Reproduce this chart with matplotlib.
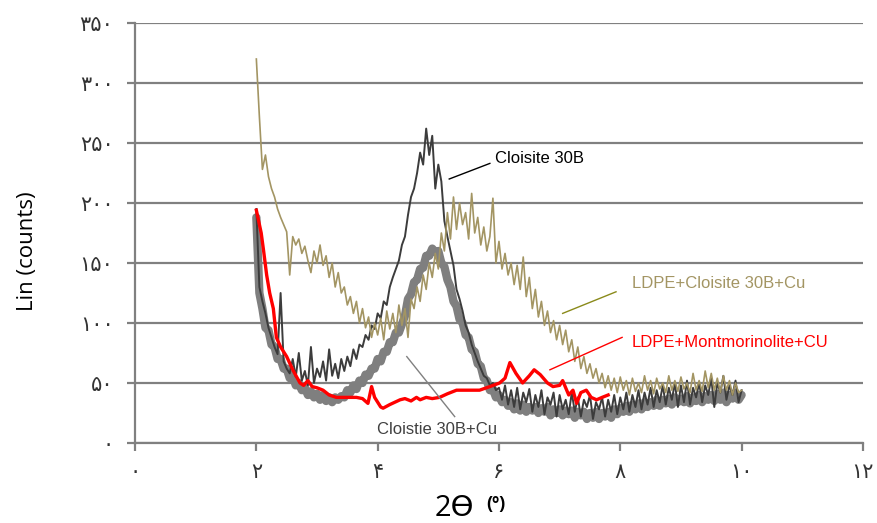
import numpy as np
import matplotlib
matplotlib.use("Agg")
import matplotlib.pyplot as plt

# 2theta scan step used for the noisy traces
scan_start = 2.0
scan_step = 0.05

cloisite_30b = [
    195, 130, 118, 108, 96, 88, 80, 74, 125, 68,
    62, 58, 70, 55, 75, 52, 60, 48, 80, 50,
    62, 55, 68, 52, 78, 56, 66, 54, 70, 60,
    72, 64, 78, 70, 82, 80, 90, 86, 98, 95,
    108, 104, 118, 115, 130, 138, 145, 152, 165, 172,
    190, 205, 212, 225, 242, 232, 262, 240, 256, 212,
    232, 218, 185, 172, 160, 148, 128, 120, 110, 98,
    92, 82, 75, 68, 62, 56, 54, 48, 50, 44,
    46, 36, 48, 32, 44, 30, 46, 28, 42, 34,
    45, 26, 40, 30, 44, 24, 38, 32, 42, 22,
    40, 28, 36, 24, 42, 26, 38, 22, 36, 30,
    40, 20, 34, 28, 38, 22, 36, 26, 40, 24,
    38, 28, 42, 26, 40, 30, 44, 28, 42, 32,
    46, 30, 44, 34, 48, 32, 46, 36, 50, 30,
    48, 34, 52, 32, 46, 38, 50, 34, 48, 40,
    54, 30, 50, 42, 56, 36, 48, 40, 52, 34,
    44,
]

cloistie_30b_cu = [
    188, 125, 112, 96, 94, 82, 80, 70, 70, 62,
    62, 54, 56, 48, 50, 44, 46, 40, 43, 38,
    41, 36, 40, 35, 38, 34, 38, 36, 39, 38,
    44, 42, 48, 45, 52, 50, 57, 56, 62, 62,
    70, 68, 76, 76, 84, 84, 92, 92, 99, 106,
    120, 124, 134, 136, 145, 146, 156, 156, 162, 159,
    160, 150, 147, 136, 130, 118, 114, 103, 100, 90,
    88, 78, 76, 66, 64, 54, 52, 44, 45, 38,
    40, 34, 36, 31, 34, 28, 33, 27, 32, 26,
    30, 27, 30, 25, 29, 26, 30, 23, 28, 25,
    28, 23, 27, 24, 27, 21, 26, 23, 26, 20,
    25, 21, 26, 20, 25, 22, 26, 21, 28, 24,
    29, 26, 31, 26, 32, 28, 33, 28, 34, 30,
    34, 31, 36, 31, 36, 33, 37, 32, 38, 34,
    37, 34, 39, 33, 38, 35, 40, 34, 39, 36,
    40, 35, 41, 36, 42, 34, 40, 37, 42, 36,
    40,
]

ldpe_cloisite_cu = [
    320, 272, 228, 240, 222, 212, 205, 195, 188, 182,
    176, 140, 172, 165, 170, 158, 164, 152, 142, 160,
    150, 165, 148, 156, 138, 150, 130, 142, 125, 130,
    115, 122, 108, 118, 100, 112, 96, 105, 88, 100,
    90, 104, 86, 110, 95, 108, 92, 115, 98, 112,
    88, 120, 112, 130, 118, 140, 128, 150, 138, 158,
    145, 175, 160, 192, 170, 205, 178, 200, 182, 192,
    170, 208, 175, 188, 165, 180, 160, 172, 204, 150,
    168, 145, 158, 140, 150, 132, 148, 128, 155, 122,
    138, 112, 128, 105, 118, 98, 110, 92, 102, 86,
    98, 82, 94, 76, 86, 68, 80, 62, 72, 58,
    66, 54, 62, 50, 58, 46, 56, 44, 54, 42,
    55, 44, 52, 40, 54, 43, 50, 42, 56, 44,
    52, 41, 54, 45, 50, 42, 56, 44, 52, 43,
    55, 45, 50, 42, 58, 44, 52, 43, 60, 46,
    58, 44, 54, 42, 56, 44, 52, 40, 50, 42,
    44,
]

ldpe_mont_x = [2.00, 2.08, 2.12, 2.17, 2.22, 2.28, 2.33, 2.40, 2.50, 2.61,
               2.72, 2.78, 2.85, 2.92, 3.00, 3.10, 3.20, 3.32, 3.50, 3.65,
               3.75, 3.84, 3.90, 3.95, 4.05, 4.09, 4.20, 4.37, 4.45, 4.55,
               4.64, 4.70, 4.80, 4.90, 5.02, 5.15, 5.30, 5.50, 5.68, 5.85,
               6.01, 6.10, 6.18, 6.28, 6.39, 6.50, 6.58, 6.68, 6.80, 6.89,
               7.00, 7.05, 7.15, 7.22, 7.28, 7.35, 7.44, 7.52, 7.61, 7.70,
               7.80]
ldpe_mont_y = [194, 175, 160, 140, 125, 112, 88, 80, 72, 60,
               50, 48, 52, 47, 46, 44, 40, 38, 38, 38,
               37, 33, 47, 38, 30, 29, 32, 36, 37, 35,
               38, 36, 38, 37, 38, 41, 44, 44, 44, 47,
               50, 54, 67, 58, 50, 56, 61, 57, 50, 47,
               48, 52, 40, 44, 33, 42, 44, 38, 36, 38,
               40]

x_ticks = [0, 2, 4, 6, 8, 10, 12]
x_tick_labels = ["۰", "۲", "۴", "۶", "۸", "۱۰", "۱۲"]
y_ticks = [0, 50, 100, 150, 200, 250, 300, 350]
y_tick_labels = ["۰", "۵۰", "۱۰۰", "۱۵۰", "۲۰۰", "۲۵۰", "۳۰۰", "۳۵۰"]


def scan_x(values):
    return scan_start + scan_step * np.arange(len(values))


fig = plt.figure(figsize=(8.78, 5.23), dpi=100)
ax = fig.add_axes([0.1538, 0.153, 0.829, 0.803])

grid_col = "#808080"

ax.plot(scan_x(cloistie_30b_cu), cloistie_30b_cu, color="#7f7f7f", lw=6,
        solid_joinstyle="round", solid_capstyle="round", zorder=3)
ax.plot(scan_x(cloisite_30b), cloisite_30b, color="#3c3c3c", lw=1.4, zorder=4)
ax.plot(scan_x(ldpe_cloisite_cu), ldpe_cloisite_cu, color="#a39563", lw=1.2, zorder=5)
ax.plot(ldpe_mont_x, ldpe_mont_y, color="#ff0000", lw=2.4, zorder=6)

# callouts
lbl_font = "Liberation Sans"
ax.plot([5.18, 5.85], [220, 233], color="black", lw=1.0, zorder=7)
ax.text(5.93, 237, "Cloisite 30B", fontsize=12, family=lbl_font,
        color="black", va="center", ha="left")

ax.plot([7.05, 7.93], [108, 126], color="#8a8a1a", lw=1.0, zorder=7)
ax.text(8.19, 133, "LDPE+Cloisite 30B+Cu", fontsize=12, family=lbl_font,
        color="#a39563", va="center", ha="left")

ax.plot([6.84, 8.03], [61, 88], color="#ff0000", lw=1.0, zorder=7)
ax.text(8.19, 84, "LDPE+Montmorinolite+CU", fontsize=12, family=lbl_font,
        color="#ff0000", va="center", ha="left")

ax.plot([4.48, 5.27], [72, 22], color="#808080", lw=1.0, zorder=7)
ax.text(3.99, 11, "Cloistie 30B+Cu", fontsize=12, family=lbl_font,
        color="#404040", va="center", ha="left")

ax.set_xlim(0, 12)
ax.set_ylim(0, 350)
ax.set_xticks(x_ticks)
ax.set_xticklabels(x_tick_labels)
ax.set_yticks(y_ticks)
ax.set_yticklabels(y_tick_labels)

ax.yaxis.grid(True, color=grid_col, lw=1.6, zorder=1)
ax.set_axisbelow(True)
for s in ["top", "right"]:
    ax.spines[s].set_visible(False)
for s in ["left", "bottom"]:
    ax.spines[s].set_color(grid_col)
    ax.spines[s].set_linewidth(1.6)

ax.tick_params(axis="both", colors=grid_col, width=1.6, length=5.5,
               labelsize=15, labelcolor="#333333")
ax.tick_params(axis="y", pad=10)
ax.tick_params(axis="x", pad=8)
for lab in ax.get_xticklabels() + ax.get_yticklabels():
    lab.set_family("DejaVu Sans")

fig.text(0.031, 0.52, "Lin (counts)", rotation=90, fontsize=16,
         family="Open Sans", va="center", ha="center")
fig.text(0.517, 0.027, "2ϴ", fontsize=21, family=["Open Sans", "DejaVu Sans"],
         va="center", ha="center")
fig.text(0.565, 0.036, "(º)", fontsize=13, family="Open Sans",
         fontweight="bold", va="center", ha="center")

fig.savefig("out.png", dpi=100)
